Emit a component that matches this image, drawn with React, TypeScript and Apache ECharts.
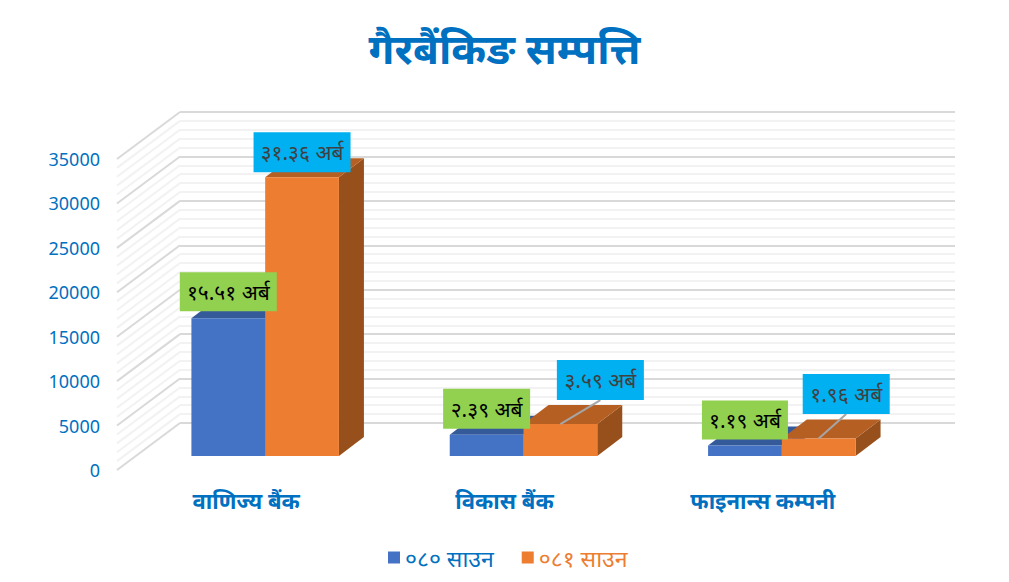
import React, { useEffect, useRef } from "react";
import * as echarts from "echarts";

const titleText = "गैरबैंकिङ सम्पत्ति";
const categories = ["वाणिज्य बैंक", "विकास बैंक", "फाइनान्स कम्पनी"];
const seriesNames = ["०८० साउन", "०८१ साउन"];
const values080 = [15510, 2390, 1190];
const values081 = [31360, 3590, 1960];
const labels080 = ["१५.५१ अर्ब", "२.३९ अर्ब", "१.१९ अर्ब"];
const labels081 = ["३१.३६ अर्ब", "३.५९ अर्ब", "१.९६ अर्ब"];
const wallMajor = [0, 5000, 10000, 15000, 20000, 25000, 30000, 35000];
const wallMinor = [
  1000, 2000, 3000, 4000, 6000, 7000, 8000, 9000, 11000, 12000, 13000, 14000, 16000, 17000, 18000, 19000,
  21000, 22000, 23000, 24000, 26000, 27000, 28000, 29000, 31000, 32000, 33000, 34000,
];

// Layout (pixels)
const FONT = "'Noto Sans', 'Open Sans', sans-serif";
const BLUE_TEXT = "#0070C0";
const WALL_X = 117;
const WALL_DX = 63;
const WALL_DY = 47;
const BAR_SHIFT_X = 19;
const BAR_SHIFT_Y = 14;
const BAR_DX = 25;
const BAR_DY = 19;
const BAR_FRACTION = 0.2855;
// label boxes relative to the top-centre of each bar's front face
const boxes080 = [
  { dx: 0, dy: -46, w: 97, h: 39 },
  { dx: 0, dy: -46, w: 87, h: 40 },
  { dx: 0, dy: -45, w: 86, h: 39 },
];
const boxes081 = [
  { dx: 0, dy: -45, w: 97, h: 40, leader: false },
  { dx: 40, dy: -64, w: 87, h: 40, leader: true },
  { dx: 27.5, dy: -64.5, w: 87, h: 40, leader: true },
];

function barRenderer(side: number, front: string, top: string, right: string) {
  return (_: any, api: any) => {
    const c = api.coord([api.value(0), api.value(1)]);
    const o = api.coord([api.value(0), 0]);
    const w = api.size([1, 0])[0] * BAR_FRACTION;
    const x0 = c[0] + BAR_SHIFT_X + (side < 0 ? -w : 0);
    const x1 = x0 + w;
    const yt = c[1] - BAR_SHIFT_Y;
    const yb = o[1] - BAR_SHIFT_Y;
    return {
      type: "group",
      children: [
        {
          type: "polygon",
          shape: { points: [[x1, yt], [x1 + BAR_DX, yt - BAR_DY], [x1 + BAR_DX, yb - BAR_DY], [x1, yb]] },
          style: { fill: right },
        },
        {
          type: "polygon",
          shape: { points: [[x0, yt], [x0 + BAR_DX, yt - BAR_DY], [x1 + BAR_DX, yt - BAR_DY], [x1, yt]] },
          style: { fill: top },
        },
        {
          type: "rect",
          shape: { x: x0, y: yt, width: w, height: yb - yt },
          style: { fill: front },
        },
      ],
    };
  };
}

function labelRenderer(side: number, texts: string[], boxes: any[], bg: string, color: string) {
  return (params: any, api: any) => {
    const i = params.dataIndex;
    const b = boxes[i];
    const c = api.coord([api.value(0), api.value(1)]);
    const w = api.size([1, 0])[0] * BAR_FRACTION;
    const cx = c[0] + BAR_SHIFT_X + (side * w) / 2;
    const yt = c[1] - BAR_SHIFT_Y;
    const bx = cx + b.dx;
    const by = yt + b.dy;
    const children: any[] = [];
    if (b.leader) {
      children.push({
        type: "line",
        shape: { x1: cx, y1: yt, x2: bx, y2: by + b.h },
        style: { stroke: "#A6A6A6", lineWidth: 2 },
      });
    }
    children.push({
      type: "rect",
      shape: { x: bx - b.w / 2, y: by, width: b.w, height: b.h },
      style: { fill: bg },
    });
    children.push({
      type: "text",
      x: bx,
      y: by + b.h / 2,
      style: { text: texts[i], fill: color, font: `normal 21px ${FONT}`, align: "center", verticalAlign: "middle" },
    });
    return { type: "group", children };
  };
}

function sideWall(stroke: string, lineWidth: number) {
  return (_: any, api: any) => {
    const p = api.coord([0, api.value(0)]);
    return {
      type: "line",
      shape: { x1: WALL_X, y1: p[1], x2: WALL_X + WALL_DX, y2: p[1] - WALL_DY },
      style: { stroke, lineWidth },
    };
  };
}

export default function App() {
  const ref = useRef<HTMLDivElement>(null);
  useEffect(() => {
    const chart = echarts.init(ref.current!, undefined, { renderer: "svg" });
    const toData = (vals: number[]) => vals.map((v, i) => [i, v]);
    const custom = { type: "custom", coordinateSystem: "cartesian2d", xAxisIndex: 0, yAxisIndex: 0, silent: true };
    chart.setOption({
      animation: false,
      backgroundColor: "#FFFFFF",
      textStyle: { fontFamily: FONT },
      title: {
        text: titleText,
        left: "center",
        top: 21,
        textStyle: { color: BLUE_TEXT, fontSize: 42, fontWeight: "bold", fontFamily: FONT },
      },
      legend: {
        left: 383,
        top: 541,
        itemWidth: 12,
        itemHeight: 12,
        itemGap: 28,
        icon: "rect",
        data: [
          { name: seriesNames[0], textStyle: { color: BLUE_TEXT } },
          { name: seriesNames[1], textStyle: { color: "#ED7D31" } },
        ],
        textStyle: { fontSize: 23, fontFamily: FONT, fontWeight: "normal" },
      },
      grid: [
        { left: 117, top: 159, width: 775, height: 311 },
        { left: 180, top: 112, width: 775, height: 311 },
      ],
      xAxis: [
        {
          type: "category",
          gridIndex: 0,
          data: categories,
          axisLine: { show: false },
          axisTick: { show: false },
          axisLabel: { color: BLUE_TEXT, fontSize: 22, fontWeight: "bold", margin: 19, fontFamily: FONT },
        },
        { type: "category", gridIndex: 1, data: categories, show: false },
      ],
      yAxis: [
        {
          type: "value",
          gridIndex: 0,
          min: 0,
          max: 35000,
          interval: 5000,
          axisLine: { show: false },
          axisTick: { show: false },
          splitLine: { show: false },
          axisLabel: {
            color: BLUE_TEXT,
            fontSize: 18,
            margin: 17,
            padding: [2, 0, 0, 0],
            fontFamily: FONT,
            formatter: (v: number) => String(v),
          },
        },
        {
          type: "value",
          gridIndex: 1,
          min: 0,
          max: 35000,
          interval: 5000,
          minorTick: { show: false, splitNumber: 5 },
          axisLine: { show: false },
          axisTick: { show: false },
          axisLabel: { show: false },
          splitLine: { show: true, lineStyle: { color: "#D9D9D9", width: 2 } },
          minorSplitLine: { show: true, lineStyle: { color: "#F2F2F2", width: 2 } },
        },
      ],
      series: [
        { ...custom, name: "wall-minor", z: 1, data: wallMinor.map((v) => [v]), encode: { y: 0 }, renderItem: sideWall("#F2F2F2", 2) },
        { ...custom, name: "wall-major", z: 1, data: wallMajor.map((v) => [v]), encode: { y: 0 }, renderItem: sideWall("#D9D9D9", 2) },
        {
          ...custom,
          name: seriesNames[0],
          z: 3,
          itemStyle: { color: "#4472C4" },
          data: toData(values080),
          encode: { x: 0, y: 1 },
          renderItem: barRenderer(-1, "#4472C4", "#355A9A", "#2F5597"),
        },
        {
          ...custom,
          name: seriesNames[1],
          z: 4,
          itemStyle: { color: "#ED7D31" },
          data: toData(values081),
          encode: { x: 0, y: 1 },
          renderItem: barRenderer(1, "#ED7D31", "#B65F23", "#97501C"),
        },
        {
          ...custom,
          name: "labels-081",
          z: 5,
          data: toData(values081),
          encode: { x: 0, y: 1 },
          renderItem: labelRenderer(1, labels081, boxes081, "#00B0F0", "#404040"),
        },
        {
          ...custom,
          name: "labels-080",
          z: 6,
          data: toData(values080),
          encode: { x: 0, y: 1 },
          renderItem: labelRenderer(-1, labels080, boxes080, "#92D050", "#000000"),
        },
      ],
    });
    return () => chart.dispose();
  }, []);
  return <div ref={ref} style={{ position: "absolute", left: 0, top: 0, width: 1009, height: 582 }} />;
}
